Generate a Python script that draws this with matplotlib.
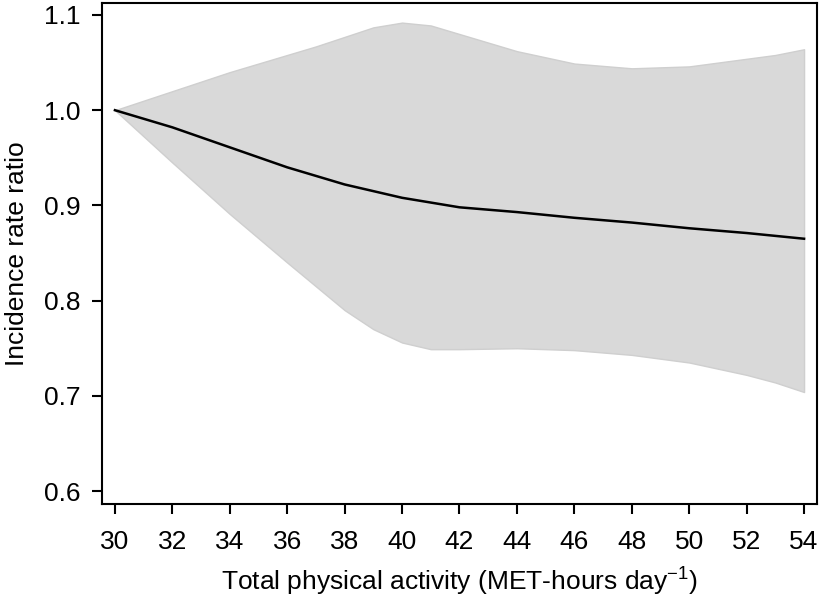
import matplotlib
matplotlib.use("Agg")
import matplotlib.pyplot as plt

plt.rcParams['font.family'] = ['Liberation Sans', 'DejaVu Sans']
plt.rcParams['mathtext.fontset'] = 'custom'
plt.rcParams['mathtext.rm'] = 'Liberation Sans'
plt.rcParams['mathtext.it'] = 'Liberation Sans:italic'

# Data
x_line = [30, 32, 34, 36, 38, 40, 42, 44, 46, 48, 50, 52, 54]
irr = [1.000, 0.982, 0.961, 0.940, 0.922, 0.908, 0.898, 0.893, 0.887, 0.882, 0.876, 0.871, 0.865]

x_band = [30, 32, 33, 34, 36, 37, 38, 39, 40, 41, 42, 44, 46, 48, 50, 52, 53, 54]
upper = [1.000, 1.020, 1.030, 1.040, 1.058, 1.067, 1.077, 1.087, 1.092, 1.089, 1.080, 1.062, 1.049, 1.044, 1.046, 1.054, 1.058, 1.064]
lower = [1.000, 0.945, 0.918, 0.891, 0.840, 0.815, 0.790, 0.770, 0.756, 0.749, 0.749, 0.750, 0.748, 0.743, 0.735, 0.722, 0.714, 0.704]

xticks = [30, 32, 34, 36, 38, 40, 42, 44, 46, 48, 50, 52, 54]
yticks = [0.6, 0.7, 0.8, 0.9, 1.0, 1.1]

fig = plt.figure(figsize=(8.22, 5.98), dpi=100)
ax = fig.add_axes([0.1241, 0.1572, 0.8698, 0.8378])

ax.fill_between(x_band, lower, upper, facecolor='#d9d9d9', edgecolor='#cfcfcf', linewidth=1.0)
ax.plot(x_line, irr, color='black', linewidth=1.8)

ax.set_xlim(29.55, 54.45)
ax.set_ylim(0.5864, 1.1126)
ax.set_xticks(xticks)
ax.set_xticklabels([str(t) for t in xticks])
ax.set_yticks(yticks)
ax.set_yticklabels([f"{t:.1f}" for t in yticks])

for s in ax.spines.values():
    s.set_linewidth(1.5)
ax.tick_params(direction='out', length=7.5, width=1.5, labelsize=19)
ax.tick_params(axis='x', pad=11)
ax.tick_params(axis='y', pad=8)

ax.set_xlabel(r'Total physical activity (MET-hours day$^{-1}$)', fontsize=19, labelpad=9)
ax.set_ylabel('Incidence rate ratio', fontsize=19, labelpad=11)

fig.savefig('out.png', dpi=100)
